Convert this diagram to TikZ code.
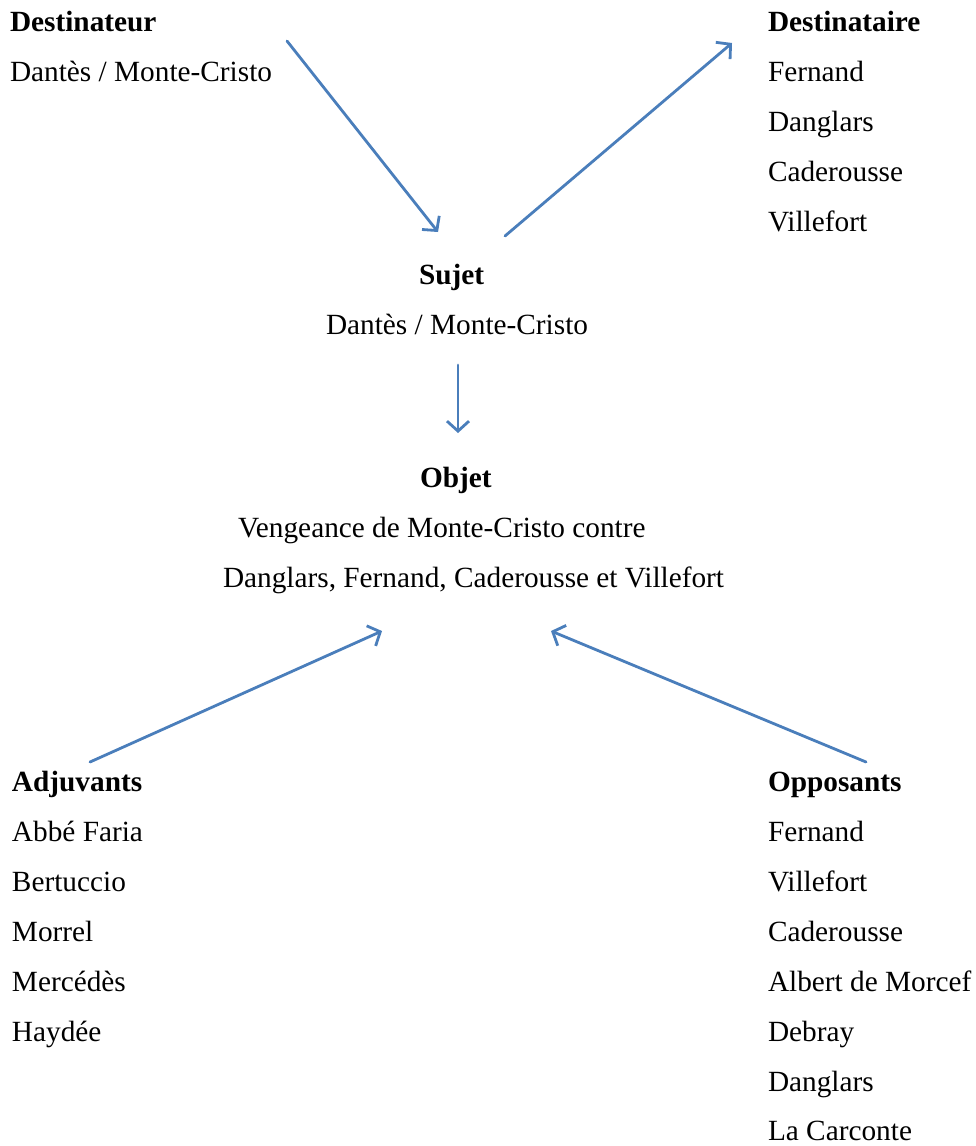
\documentclass[tikz,border=0pt]{standalone}
\usepackage{fontspec}
\setmainfont{Liberation Serif}
\usetikzlibrary{arrows.meta}
\definecolor{arrowblue}{HTML}{4A7EBB}
\tikzset{
  lbl/.style={anchor=base west, inner sep=0pt, outer sep=0pt,
    font=\fontsize{29.3}{35}\selectfont},
  head/.style={lbl, font=\fontsize{29.3}{35}\selectfont\bfseries},
  link/.style={draw=arrowblue, line width=2.8pt, line cap=round,
    -{Straight Barb[length=10pt, width=22pt, line width=2.8pt]}}
}
\begin{document}
\begin{tikzpicture}[x=1pt, y=-1pt]
\useasboundingbox (0,0) rectangle (976,1146);

% Destinateur
\node[head] (dtr) at (10,31) {Destinateur};
\node[lbl] (dtr1) at (10,81) {Dantès / Monte-Cristo};

% Destinataire
\node[head] (dta) at (768,31) {Destinataire};
\node[lbl] (dta1) at (768,81) {Fernand};
\node[lbl] (dta2) at (768,131) {Danglars};
\node[lbl] (dta3) at (768,181) {Caderousse};
\node[lbl] (dta4) at (768,231) {Villefort};

% Sujet
\node[head] (suj) at (419,284) {Sujet};
\node[lbl] (suj1) at (326,334) {Dantès / Monte-Cristo};

% Objet
\node[head] (obj) at (420,487) {Objet};
\node[lbl] (obj1) at (238,537) {Vengeance de Monte-Cristo contre};
\node[lbl] (obj2) at (223,587) {Danglars, Fernand, Caderousse et Villefort};

% Adjuvants
\node[head] (adj) at (12,791) {Adjuvants};
\node[lbl] (adj1) at (12,841) {Abbé Faria};
\node[lbl] (adj2) at (12,891) {Bertuccio};
\node[lbl] (adj3) at (12,941) {Morrel};
\node[lbl] (adj4) at (12,991) {Mercédès};
\node[lbl] (adj5) at (12,1041) {Haydée};

% Opposants
\node[head] (opp) at (768,791) {Opposants};
\node[lbl] (opp1) at (768,841) {Fernand};
\node[lbl] (opp2) at (768,891) {Villefort};
\node[lbl] (opp3) at (768,941) {Caderousse};
\node[lbl] (opp4) at (768,991) {Albert de Morcef};
\node[lbl] (opp5) at (768,1041) {Debray};
\node[lbl] (opp6) at (768,1091) {Danglars};
\node[lbl] (opp7) at (768,1140) {La Carconte};

% arrow end points
\coordinate (aS) at (287,41);
\coordinate (aE) at (438,232);
\coordinate (bS) at (505,236);
\coordinate (bE) at (732,43);
\coordinate (cS) at (458,365);
\coordinate (cE) at (458,433);
\coordinate (dS) at (90,762);
\coordinate (dE) at (382,631);
\coordinate (eS) at (866,762);
\coordinate (eE) at (551,631);

\draw[link] (aS) -- (aE);
\draw[link] (bS) -- (bE);
\draw[link] (cS) -- (cE);
\draw[link] (dS) -- (dE);
\draw[link] (eS) -- (eE);
\end{tikzpicture}
\end{document}
